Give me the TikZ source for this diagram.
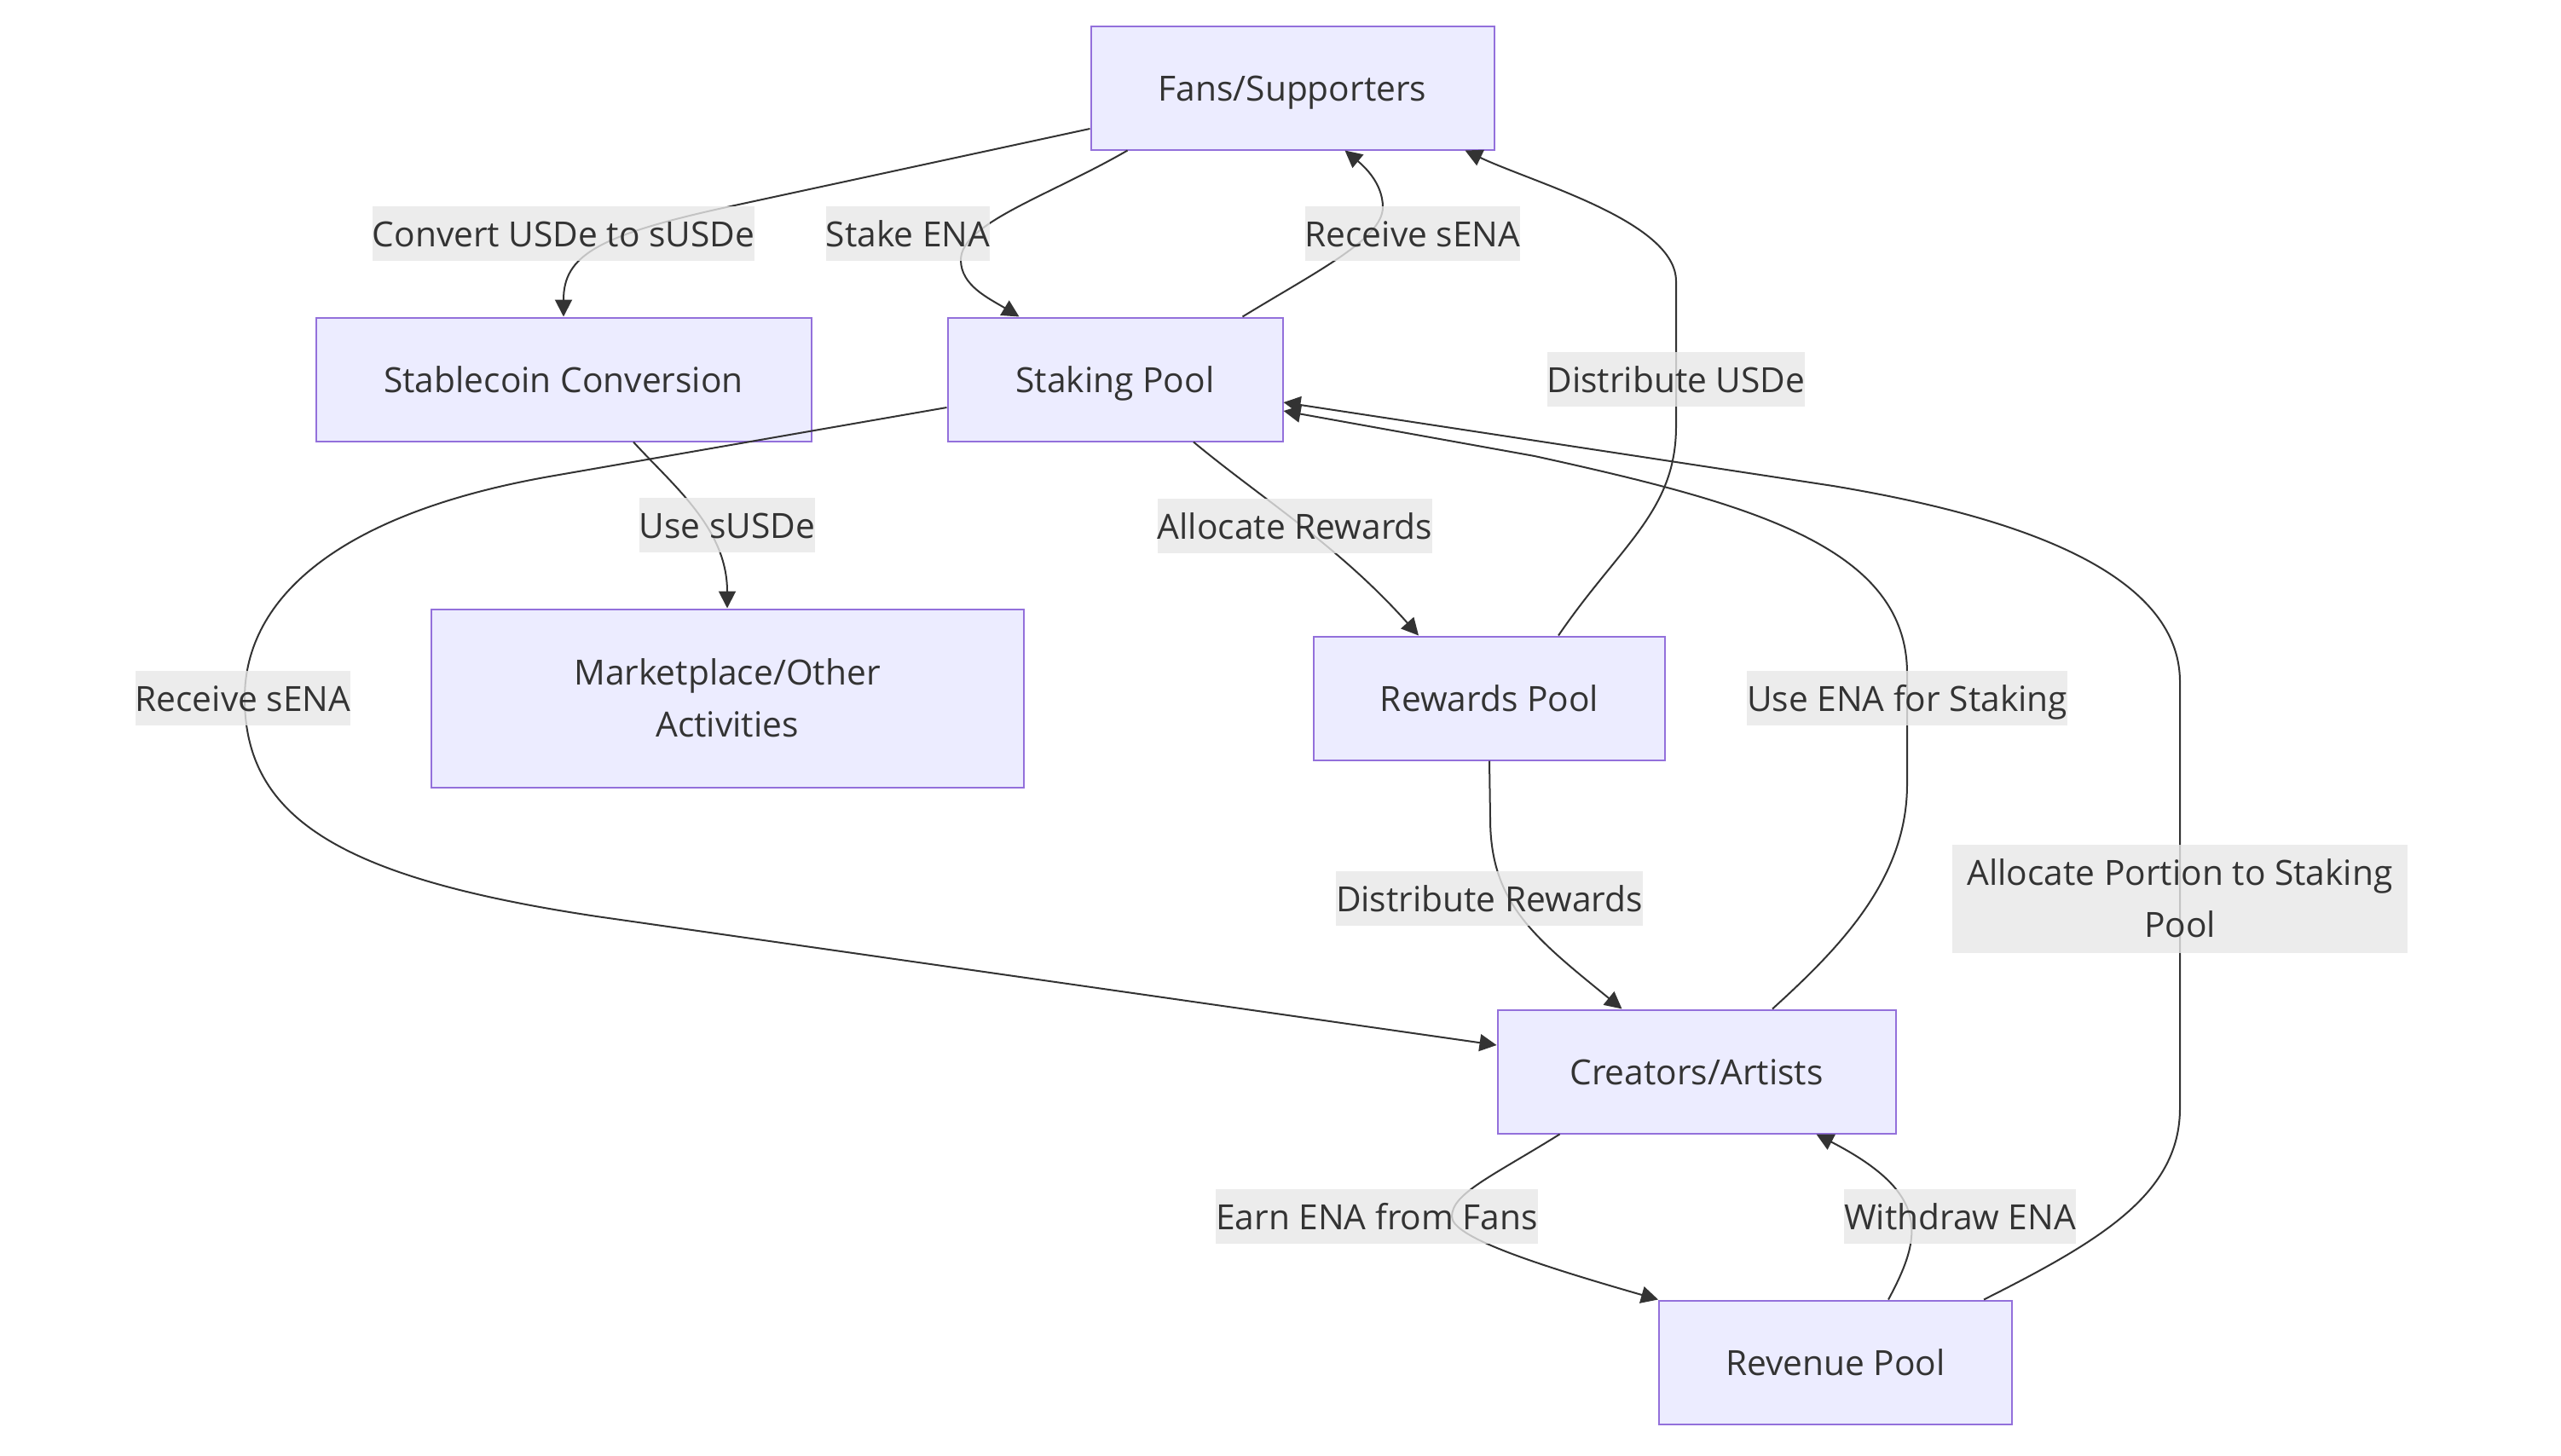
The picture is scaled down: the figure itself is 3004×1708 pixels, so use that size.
\documentclass[tikz,border=0pt]{standalone}
\usepackage{fontspec}
\setmainfont{Open Sans}
\usetikzlibrary{arrows.meta}
\definecolor{nodefill}{HTML}{ECECFF}
\definecolor{nodeline}{HTML}{9370DB}
\definecolor{txt}{HTML}{333333}
\definecolor{edgecol}{HTML}{333333}
\definecolor{lblbg}{HTML}{E8E8E8}
\begin{document}
\begin{tikzpicture}[x=0.5pt,y=-0.5pt,
  box/.style={draw=nodeline, fill=nodefill, line width=1pt, inner sep=0pt, text=txt,
    font=\fontsize{20.35pt}{30.5pt}\selectfont, align=center, minimum height=72.5pt},
  lbl/.style={fill=lblbg, fill opacity=0.8, text opacity=1, text=txt, inner xsep=0pt, inner ysep=0pt,
    font=\fontsize{20.35pt}{30.5pt}\selectfont, align=center, minimum height=32pt},
  oneline/.style={text height=21.75pt, text depth=5.96pt},
  link/.style={draw=edgecol, line width=1pt, -{Triangle[length=10pt,width=10pt]}},
]
\useasboundingbox (0,0) rectangle (3004,1708);
\fill[white] (0,0) rectangle (3004,1708);

% nodes
\node[box, oneline, minimum width=236.5pt] (fans) at (1516,103) {Fans/Supporters};
\node[box, oneline, minimum width=290.5pt] (stable) at (661,445) {Stablecoin Conversion};
\node[box, oneline, minimum width=196.5pt] (staking) at (1308,445) {Staking Pool};
\node[box, minimum width=347.5pt, minimum height=104.5pt] (market) at (853,819) {Marketplace/Other\\Activities};
\node[box, oneline, minimum width=206pt] (rewards) at (1747,819) {Rewards Pool};
\node[box, oneline, minimum width=233.5pt] (creators) at (1990,1257) {Creators/Artists};
\node[box, oneline, minimum width=207pt] (revenue) at (2153,1598) {Revenue Pool};

% edges
\draw[link] ([yshift=-24pt]fans.west) -- (857,242) .. controls (700,276) and (661,300) .. (stable.north);
\draw[link] ([xshift=22pt]fans.south west) .. controls (1230,230) and (1127,262) .. (1127,305)
   .. controls (1127,335) and (1160,350) .. ([xshift=42.5pt]staking.north west);
\draw[link] ([xshift=-24pt]staking.north east) .. controls (1545,318) and (1622,280) .. (1622,243)
   .. controls (1622,215) and (1600,195) .. ([xshift=149.5pt]fans.south west);
\draw[link] ([xshift=-63pt]rewards.north east) .. controls (1900,640) and (1966,600) .. (1966,500)
   -- (1966,330) .. controls (1966,260) and (1800,215) .. ([xshift=-17.5pt]fans.south east);
\draw[link] ([xshift=41pt]stable.south) .. controls (790,570) and (853,620) .. (market.north);
\draw[link] ([xshift=46pt]staking.south) .. controls (1480,585) and (1570,640) .. ([xshift=62pt]rewards.north west);
\draw[link] ([yshift=-16.5pt]staking.west) -- (650,558) .. controls (400,601) and (287,700) .. (287,819)
   .. controls (287,960) and (400,1030) .. (700,1075) -- ([yshift=15.5pt]creators.west);
\draw[link] ([xshift=44.5pt]creators.north) .. controls (2160,1110) and (2237,1030) .. (2237,920)
   -- (2237,790) .. controls (2237,640) and (2050,590) .. (1800,535) -- ([yshift=-18.5pt]staking.east);
\draw[link] (rewards.south) -- (1748,960) .. controls (1748,1060) and (1800,1100) .. ([xshift=73.5pt]creators.north west);
\draw[link] ([xshift=-17pt]revenue.north east) .. controls (2465,1455) and (2557,1400) .. (2557,1300)
   -- (2557,800) .. controls (2557,660) and (2330,600) .. (2150,570) -- ([yshift=-13.5pt]staking.east);
\draw[link] ([xshift=37pt]creators.south west) .. controls (1750,1380) and (1703,1400) .. (1703,1427)
   .. controls (1703,1450) and (1790,1480) .. (revenue.north west);
\draw[link] ([xshift=135pt]revenue.north west) .. controls (2255,1450) and (2265,1400) .. ([xshift=-47pt]creators.south east);

% labels
\node[lbl, oneline] (l1) at (661,274) {Convert USDe to sUSDe};
\node[lbl, oneline] (l2) at (1065,274) {Stake ENA};
\node[lbl, oneline] (l3) at (1657,274) {Receive sENA};
\node[lbl, oneline] (l4) at (1966,445) {Distribute USDe};
\node[lbl, oneline] (l5) at (853,616) {Use sUSDe};
\node[lbl, oneline] (l6) at (1519,617) {Allocate Rewards};
\node[lbl, oneline] (l7) at (285,819) {Receive sENA};
\node[lbl, oneline] (l8) at (2237,819) {Use ENA for Staking};
\node[lbl, oneline] (l9) at (1747,1054) {Distribute Rewards};
\node[lbl, minimum height=63.5pt, minimum width=267pt] (l10) at (2557,1054) {Allocate Portion to Staking\\Pool};
\node[lbl, oneline] (l11) at (1615,1427) {Earn ENA from Fans};
\node[lbl, oneline] (l12) at (2299,1427) {Withdraw ENA};
\end{tikzpicture}
\end{document}
